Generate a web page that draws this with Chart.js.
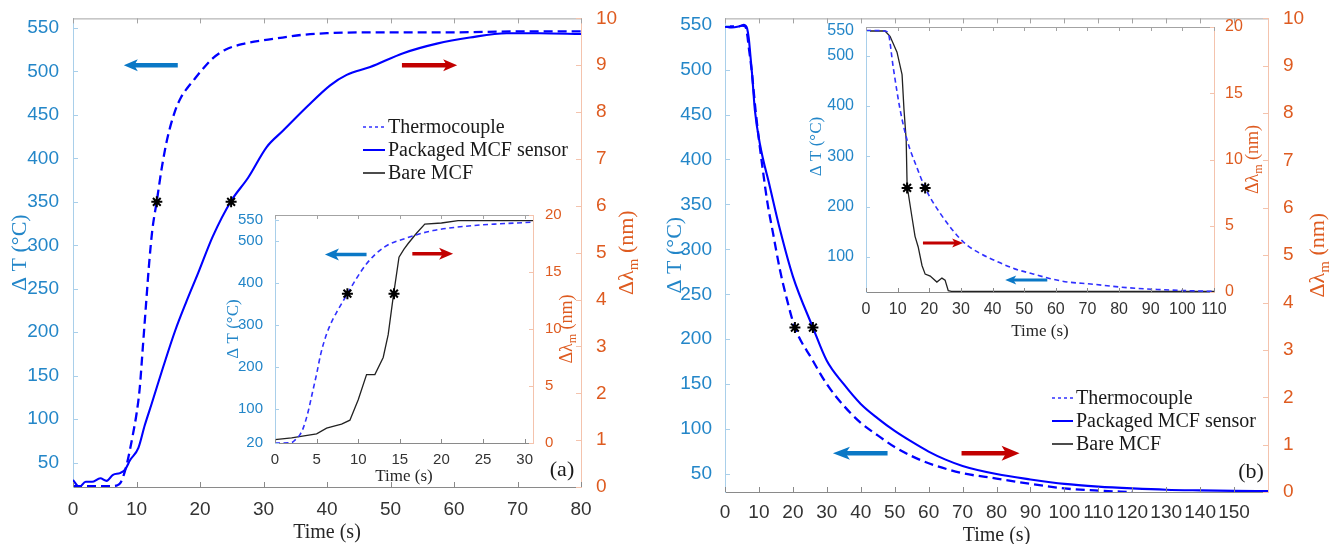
<!DOCTYPE html>
<html>
<head>
<meta charset="utf-8">
<script src="https://cdn.jsdelivr.net/npm/chart.js@4.4.1/dist/chart.umd.min.js"></script>
<style>
html,body{margin:0;padding:0;background:#fff;}
#fig{position:relative;width:1331px;height:544px;overflow:hidden;background:#fff;}
#fig canvas{position:absolute;}
</style>
</head>
<body>
<div id="fig">
<canvas id="mainA" width="660" height="544" style="left:0px;top:0px"></canvas>
<canvas id="mainB" width="671" height="544" style="left:660px;top:0px"></canvas>
<canvas id="insetA" width="375" height="295" style="left:215px;top:200px"></canvas>
<canvas id="insetB" width="470" height="340" style="left:800px;top:10px"></canvas>
</div>
<script>
// ---- text ----
const legendLabels = ["Thermocouple", "Packaged MCF sensor", "Bare MCF"];
const timeTitle = "Time (s)";
const tempTitle = [{t: "\u0394 T (\u00B0C)"}];
const shiftTitle = [{t: "\u0394\u03BB"}, {t: "m", sub: true}, {t: " (nm)"}];

// ---- panel (a): heating ----
const aThermoTime = [0, 2, 4, 6, 7, 7.5, 8, 8.5, 9, 9.5, 10, 10.5, 11, 11.5, 12, 12.5, 13.2, 14, 14.8, 16, 17, 18, 19, 20, 22, 24, 27, 30, 33, 36, 40, 50, 60, 70, 80];
const aThermoTemp = [23, 23, 23, 23, 24, 27, 36, 49, 66, 85, 106, 135, 183, 232, 280, 318, 351, 390, 421, 453, 470, 481, 490, 499, 515, 525, 532, 536, 539, 542, 544, 545, 545, 546, 546];
const aPackTime = [0, 1, 2, 3, 4.3, 5.3, 6.3, 7.4, 8.2, 9, 10.3, 11.3, 12.4, 14.2, 16.1, 17.9, 19.7, 22, 24.9, 27.6, 30.5, 33.1, 36.8, 40.5, 43.1, 46.8, 52, 57.3, 62.5, 68.3, 73.5, 80];
const aPackTemp = [30, 22, 28, 28, 32, 29, 36, 38, 42, 53, 67, 93, 118, 160, 202, 236, 268, 310, 351, 378, 413, 432, 459, 484, 496, 505, 521, 532, 539, 544, 544, 543];
const aStarTime = [13.2, 24.9];
const aStarTemp = [350, 350];
const aArrowTemp = [16.5, 8.0, 507];   // from t, to t, level (ΔT)
const aArrowShift = [51.8, 60.5, 9.0]; // from t, to t, level (Δλm)

// inset (a)
const aInThermoTime = [0, 1, 2, 2.4, 3, 3.4, 4, 4.5, 5, 5.5, 6.2, 7, 7.5, 8.7, 9.6, 11, 13, 15.9, 19, 23.9, 27, 31];
const aInThermoTemp = [20, 20, 21, 27, 40, 56, 96, 140, 184, 232, 279, 316, 334, 375, 405, 446, 484, 508, 525, 537, 541, 545];
const aInBareTime = [0, 2, 3.3, 5, 6.2, 7.2, 8, 9, 10, 11, 12, 13, 13.6, 14.2, 14.9, 15.5, 16, 17, 18, 20, 22, 31];
const aInBareShift = [0.3, 0.45, 0.6, 0.8, 1.3, 1.5, 1.65, 2.0, 3.8, 6.0, 6.0, 7.5, 9.5, 12.8, 16.3, 17.0, 17.5, 18.4, 19.2, 19.3, 19.5, 19.5];
const aInStarTime = [8.7, 14.3];
const aInStarTemp = [375, 375];
const aInArrowTemp = [11.0, 6.0, 468];
const aInArrowShift = [16.5, 21.4, 16.6];

// ---- panel (b): cooling ----
const bThermoTime = [0, 2, 4, 5, 6, 6.5, 7, 7.8, 9, 10, 11.3, 12.5, 14.2, 16.2, 18, 20.6, 25.6, 30, 35, 40, 45, 50, 55, 60, 70, 80, 90, 100, 110, 120];
const bThermoTemp = [548, 548, 548, 549, 548, 540, 525, 501, 455, 422, 384, 352, 317, 277, 248, 213, 178, 150, 126, 107, 93, 80, 70, 62, 51, 45, 39, 34, 31.5, 30];
const bPackTime = [0, 2, 4, 5, 5.5, 6, 6.5, 7, 7.5, 8, 8.8, 10.3, 13.2, 16.2, 20, 25.9, 30, 35, 40, 45, 50, 55, 60, 65, 70, 80, 90, 100, 110, 120, 130, 140, 150, 160];
const bPackTemp = [548, 547, 548, 549, 550, 549, 546, 535, 515, 494, 455, 417, 370, 322, 270, 213, 176, 150, 128, 112, 98, 86, 75, 66, 59, 50, 44, 39, 36, 34, 32.5, 31.8, 31.3, 31];
const bStarTime = [20.6, 25.9];
const bStarTemp = [213, 213];
const bArrowTemp = [47.9, 31.8, 73];
const bArrowShift = [69.7, 86.8, 0.82];

// inset (b)
const bInThermoTime = [0, 3, 6, 7, 8.6, 10.8, 13, 16, 18.7, 23.4, 30.7, 36, 42.4, 47, 52.8, 58, 63.6, 71, 80, 92, 100, 110];
const bInThermoTemp = [550, 550, 549, 545, 477, 392, 332, 279, 237, 187, 130, 107, 88, 76, 66, 57, 50, 46, 40, 35, 33, 31];
const bInBareTime = [0, 6, 7.6, 9.8, 11.4, 12, 12.7, 13, 14.5, 15.5, 16.5, 17.7, 18.7, 20.3, 22.4, 24, 25, 26, 27, 110];
const bInBareShift = [19.7, 19.7, 19.3, 18.1, 16.4, 13.8, 11.5, 8, 5.7, 4.2, 3.4, 2.0, 1.35, 1.2, 0.75, 1.05, 0.9, 0.1, 0.05, 0.05];
const bInStarTime = [13, 18.7];
const bInStarTemp = [237, 237];
const bInArrowTemp = [57.3, 44, 54];
const bInArrowShift = [18, 30.7, 3.7];

// ---- tick labels ----
const aTimeTicks = [0, 10, 20, 30, 40, 50, 60, 70, 80];
const bTimeTicks = [0, 10, 20, 30, 40, 50, 60, 70, 80, 90, 100, 110, 120, 130, 140, 150];
const mainTempTicks = [50, 100, 150, 200, 250, 300, 350, 400, 450, 500, 550];
const mainShiftTicks = [0, 1, 2, 3, 4, 5, 6, 7, 8, 9, 10];
const aInTimeTicks = [0, 5, 10, 15, 20, 25, 30];
const bInTimeTicks = [0, 10, 20, 30, 40, 50, 60, 70, 80, 90, 100, 110];
const aInTempTicks = [20, 100, 200, 300, 400, 500, 550];
const bInTempTicks = [100, 200, 300, 400, 500, 550];
const inShiftTicks = [0, 5, 10, 15, 20];

// ---- styles ----
const SANS = '"Liberation Sans", Arial, sans-serif';
const SERIF = '"Liberation Serif", "Times New Roman", serif';
const BLUE_TXT = "#2386c8", ORANGE_TXT = "#de5b20";
const BLUE_AX = "#a9cfea", ORANGE_AX = "#f4c3ad", GREY_AX = "#8a8a8a";
const LINE_BLUE = "#0000ff", INSET_BLUE = "#3030ff";
const ARROW_BLUE = "#0a78c6", ARROW_RED = "#c20000";

function pts(xs, ys){
  return xs.map((x, i) => ({x: x, y: ys[i]}));
}

function curve(xs, ys, color, width, dash, axis, smooth){
  return {
    data: pts(xs, ys),
    borderColor: color,
    borderWidth: width,
    borderDash: dash,
    pointRadius: 0,
    fill: false,
    yAxisID: axis,
    tension: 0,
    cubicInterpolationMode: smooth ? "monotone" : "default"
  };
}

function stars(xs, ys){
  return {
    data: pts(xs, ys),
    showLine: false,
    pointStyle: "star",
    pointRadius: 5.5,
    pointBorderWidth: 2,
    pointBorderColor: "#000",
    borderColor: "#000",
    yAxisID: "y"
  };
}

function seg(c, x1, y1, x2, y2){
  c.beginPath(); c.moveTo(x1, y1); c.lineTo(x2, y2); c.stroke();
}

function vText(c, x, y, parts, size, color){
  c.save();
  c.translate(x, y);
  c.rotate(-Math.PI / 2);
  c.fillStyle = color;
  c.textBaseline = "middle";
  c.textAlign = "left";
  const fonts = parts.map(p => (p.sub ? Math.round(size * 0.68) : size) + "px " + SERIF);
  let total = 0;
  const widths = parts.map((p, i) => { c.font = fonts[i]; const w = c.measureText(p.t).width; total += w; return w; });
  let cx = -total / 2;
  parts.forEach((p, i) => {
    c.font = fonts[i];
    c.fillText(p.t, cx, p.sub ? size * 0.32 : 0);
    cx += widths[i];
  });
  c.restore();
}

function arrow(c, x1, x2, y, color, w, hl, hw){
  const d = x2 > x1 ? 1 : -1;
  c.strokeStyle = color;
  c.fillStyle = color;
  c.lineWidth = w;
  seg(c, x1, y, x2 - d * hl * 0.7, y);
  c.beginPath();
  c.moveTo(x2, y);
  c.lineTo(x2 - d * hl, y - hw);
  c.lineTo(x2 - d * hl * 0.75, y);
  c.lineTo(x2 - d * hl, y + hw);
  c.closePath();
  c.fill();
}

function decorPlugin(d){
  return {
    id: "decor",
    beforeDraw(chart){
      if(!d.fill) return;
      const a = chart.chartArea, c = chart.ctx;
      c.save();
      c.fillStyle = "#ffffff";
      c.fillRect(a.left, a.top, a.right - a.left, a.bottom - a.top);
      c.restore();
    },
    afterDraw(chart){
      const c = chart.ctx, a = chart.chartArea;
      const sx = chart.scales.x, sy = chart.scales.y, sy1 = chart.scales.y1;
      c.save();
      c.lineWidth = 1;
      c.setLineDash([]);

      // top frame with inward ticks
      c.strokeStyle = "#a3a3a3";
      seg(c, a.left, a.top + 0.5, a.right, a.top + 0.5);
      sx.ticks.forEach(t => {
        const p = Math.round(sx.getPixelForValue(t.value)) + 0.5;
        c.strokeStyle = GREY_AX;
        seg(c, p, a.bottom, p, a.bottom - d.tick);
        c.strokeStyle = "#a3a3a3";
        seg(c, p, a.top, p, a.top + d.tick);
      });
      c.strokeStyle = BLUE_AX;
      sy.ticks.forEach(t => {
        const p = Math.round(sy.getPixelForValue(t.value)) + 0.5;
        seg(c, a.left, p, a.left + d.tick, p);
      });
      c.strokeStyle = ORANGE_AX;
      sy1.ticks.forEach(t => {
        const p = Math.round(sy1.getPixelForValue(t.value)) + 0.5;
        seg(c, a.right, p, a.right - d.tick, p);
      });

      // axis titles
      const midY = (a.top + a.bottom) / 2;
      vText(c, d.left.x, midY + (d.left.dy || 0), tempTitle, d.left.size, BLUE_TXT);
      vText(c, d.right.x, midY, shiftTitle, d.right.size, ORANGE_TXT);
      c.fillStyle = "#262626";
      c.font = d.time.size + "px " + SERIF;
      c.textAlign = "center";
      c.textBaseline = "middle";
      c.fillText(timeTitle, (a.left + a.right) / 2, d.time.y);

      // direction arrows
      d.arrows.forEach(ar => {
        const ys = chart.scales[ar.axis];
        arrow(c, sx.getPixelForValue(ar.v[0]), sx.getPixelForValue(ar.v[1]),
          ys.getPixelForValue(ar.v[2]), ar.color, ar.w, ar.hl, ar.hw);
      });

      // legend
      if(d.legend){
        const L = d.legend;
        const styles = [
          {color: INSET_BLUE, w: 1.5, dash: [3, 3]},
          {color: LINE_BLUE, w: 2, dash: []},
          {color: "#111", w: 1.5, dash: []}
        ];
        legendLabels.forEach((lab, i) => {
          const y = L.y + i * L.dy;
          c.strokeStyle = styles[i].color;
          c.lineWidth = styles[i].w;
          c.setLineDash(styles[i].dash);
          seg(c, L.x, y, L.x + L.len, y);
          c.setLineDash([]);
          c.fillStyle = "#1a1a1a";
          c.font = "20px " + SERIF;
          c.textAlign = "left";
          c.textBaseline = "middle";
          c.fillText(lab, L.x + L.len + 3, y + 1);
        });
      }

      if(d.panel){
        c.fillStyle = "#1a1a1a";
        c.font = "22px " + SERIF;
        c.textAlign = "center";
        c.textBaseline = "middle";
        c.fillText(d.panel.text, d.panel.x, d.panel.y);
      }
      c.restore();
    }
  };
}

function xAxis(min, max, ticks, size, pad, height){
  return {
    type: "linear", position: "bottom", min: min, max: max,
    grid: {display: false},
    border: {display: true, color: GREY_AX, width: 1},
    ticks: {autoSkip: false, maxRotation: 0, minRotation: 0, color: "#333", padding: pad,
      font: {family: SANS, size: size}, callback: v => String(v)},
    afterBuildTicks: s => { s.ticks = ticks.map(v => ({value: v})); },
    afterFit: s => { s.height = height; }
  };
}

function yAxis(pos, min, max, ticks, size, pad, width, color, axColor){
  return {
    type: "linear", position: pos, min: min, max: max,
    grid: {display: false},
    border: {display: true, color: axColor, width: 1},
    ticks: {autoSkip: false, color: color, padding: pad,
      font: {family: SANS, size: size}, callback: v => String(v)},
    afterBuildTicks: s => { s.ticks = ticks.map(v => ({value: v})); },
    afterFit: s => { s.width = width; }
  };
}

function build(id, spec){
  return new Chart(document.getElementById(id), {
    type: "line",
    data: {datasets: spec.datasets},
    options: {
      responsive: false,
      maintainAspectRatio: false,
      animation: false,
      events: [],
      layout: {padding: {top: spec.top, left: 0, right: 0, bottom: 0}},
      scales: {x: spec.x, y: spec.y, y1: spec.y1},
      plugins: {legend: {display: false}, tooltip: {enabled: false}}
    },
    plugins: [decorPlugin(spec.decor)]
  });
}

// ---- panel (a) main ----
build("mainA", {
  top: 18,
  datasets: [
    stars(aStarTime, aStarTemp),
    curve(aThermoTime, aThermoTemp, LINE_BLUE, 2.3, [9, 5], "y", true),
    curve(aPackTime, aPackTemp, LINE_BLUE, 2.1, [], "y", true)
  ],
  x: xAxis(0, 80, aTimeTicks, 19, 3, 57),
  y: yAxis("left", 22, 561, mainTempTicks, 19, 6, 73, BLUE_TXT, BLUE_AX),
  y1: yAxis("right", 0, 10, mainShiftTicks, 19, 7, 79, ORANGE_TXT, ORANGE_AX),
  decor: {
    fill: false, tick: 5,
    left: {x: 20, size: 22}, right: {x: 627, size: 22}, time: {y: 533, size: 20},
    arrows: [
      {v: aArrowTemp, axis: "y", color: ARROW_BLUE, w: 4.5, hl: 14, hw: 6},
      {v: aArrowShift, axis: "y1", color: ARROW_RED, w: 4.5, hl: 14, hw: 6}
    ],
    legend: {x: 363, y: 127, dy: 23, len: 22},
    panel: {text: "(a)", x: 562, y: 470}
  }
});

// ---- panel (b) main ----
build("mainB", {
  top: 17,
  datasets: [
    stars(bStarTime, bStarTemp),
    curve(bThermoTime, bThermoTemp, LINE_BLUE, 2.3, [9, 5], "y", true),
    curve(bPackTime, bPackTemp, LINE_BLUE, 2.1, [], "y", true)
  ],
  x: xAxis(0, 160, bTimeTicks, 19, 1, 52),
  y: yAxis("left", 30, 557, mainTempTicks, 19, 5, 65, BLUE_TXT, BLUE_AX),
  y1: yAxis("right", 0, 10, mainShiftTicks, 19, 7, 63, ORANGE_TXT, ORANGE_AX),
  decor: {
    fill: false, tick: 5,
    left: {x: 15, size: 22}, right: {x: 658, size: 22}, time: {y: 536, size: 20},
    arrows: [
      {v: bArrowTemp, axis: "y", color: ARROW_BLUE, w: 4.5, hl: 17, hw: 6.5},
      {v: bArrowShift, axis: "y1", color: ARROW_RED, w: 4.5, hl: 18, hw: 7.5}
    ],
    legend: {x: 392, y: 398, dy: 23, len: 21},
    panel: {text: "(b)", x: 591, y: 472}
  }
});

// ---- inset (a) ----
build("insetA", {
  top: 15,
  datasets: [
    stars(aInStarTime, aInStarTemp),
    curve(aInThermoTime, aInThermoTemp, INSET_BLUE, 1.6, [5, 3.5], "y", true),
    curve(aInBareTime, aInBareShift, "#222", 1.3, [], "y1", false)
  ],
  x: xAxis(0, 31, aInTimeTicks, 15, 0, 52),
  y: yAxis("left", 20, 562, aInTempTicks, 15, 4, 60, BLUE_TXT, BLUE_AX),
  y1: yAxis("right", 0, 20, inShiftTicks, 15, 4, 57, ORANGE_TXT, ORANGE_AX),
  decor: {
    fill: true, tick: 4,
    left: {x: 19, size: 17}, right: {x: 352, size: 18}, time: {y: 277, size: 17},
    arrows: [
      {v: aInArrowTemp, axis: "y", color: ARROW_BLUE, w: 3.5, hl: 14, hw: 6},
      {v: aInArrowShift, axis: "y1", color: ARROW_RED, w: 3.5, hl: 14, hw: 6}
    ]
  }
});

// ---- inset (b) ----
build("insetB", {
  top: 17,
  datasets: [
    stars(bInStarTime, bInStarTemp),
    curve(bInThermoTime, bInThermoTemp, INSET_BLUE, 1.6, [5, 3.5], "y", true),
    curve(bInBareTime, bInBareShift, "#222", 1.3, [], "y1", false)
  ],
  x: xAxis(0, 110, bInTimeTicks, 16, 0, 58),
  y: yAxis("left", 30, 557, bInTempTicks, 16, 4, 66, BLUE_TXT, BLUE_AX),
  y1: yAxis("right", 0, 20, inShiftTicks, 16, 3, 56, ORANGE_TXT, ORANGE_AX),
  decor: {
    fill: true, tick: 4,
    left: {x: 17, dy: -13, size: 17}, right: {x: 453, size: 18}, time: {y: 322, size: 17},
    arrows: [
      {v: bInArrowTemp, axis: "y", color: ARROW_BLUE, w: 3, hl: 11, hw: 4.5},
      {v: bInArrowShift, axis: "y1", color: ARROW_RED, w: 3, hl: 11, hw: 4.5}
    ]
  }
});
</script>
</body>
</html>
